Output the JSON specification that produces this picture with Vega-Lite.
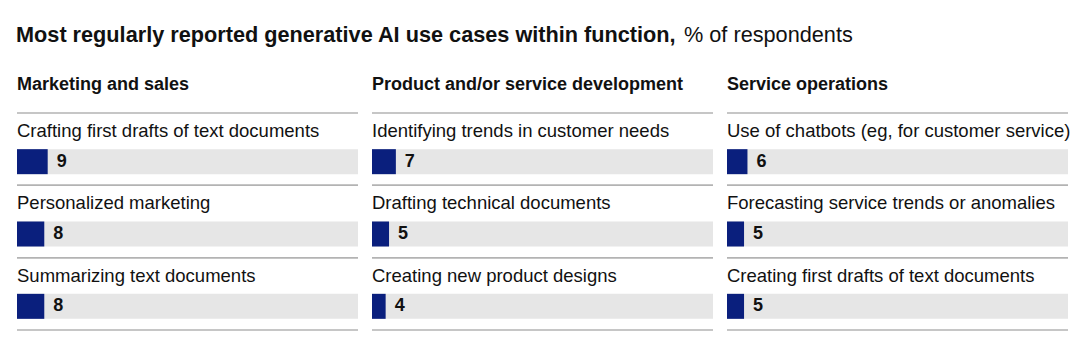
{
  "$schema": "https://vega.github.io/schema/vega-lite/v6.json",
  "background": "white",
  "padding": {"left": 16, "top": 24, "right": 0, "bottom": 0},
  "autosize": {"type": "pad"},
  "bounds": "flush",
  "config": {"view": {"stroke": null}, "font": "Liberation Sans"},
  "title": {"text": "% of respondents", "anchor": "start", "dx": 668, "dy": 25, "fontSize": 21.7, "fontWeight": "normal", "color": "#111111"},
  "data": {"values": [
    {"func": "Marketing and sales", "col": 1, "rank": 1, "item": "Crafting first drafts of text documents", "value": 9},
    {"func": "Marketing and sales", "col": 1, "rank": 2, "item": "Personalized marketing", "value": 8},
    {"func": "Marketing and sales", "col": 1, "rank": 3, "item": "Summarizing text documents", "value": 8},
    {"func": "Product and/or service development", "col": 2, "rank": 1, "item": "Identifying trends in customer needs", "value": 7},
    {"func": "Product and/or service development", "col": 2, "rank": 2, "item": "Drafting technical documents", "value": 5},
    {"func": "Product and/or service development", "col": 2, "rank": 3, "item": "Creating new product designs", "value": 4},
    {"func": "Service operations", "col": 3, "rank": 1, "item": "Use of chatbots (eg, for customer service)", "value": 6},
    {"func": "Service operations", "col": 3, "rank": 2, "item": "Forecasting service trends or anomalies", "value": 5},
    {"func": "Service operations", "col": 3, "rank": 3, "item": "Creating first drafts of text documents", "value": 5}
  ]},
  "spacing": 14,
  "facet": {
    "column": {
      "field": "func", "type": "nominal", "sort": {"field": "col", "op": "min"},
      "title": "Most regularly reported generative AI use cases within function,",
      "header": {
        "labelAnchor": "start", "labelFontWeight": "bold", "labelFontSize": 18, "labelColor": "#111111", "labelPadding": 19,
        "titleAnchor": "start", "titleFontWeight": "bold", "titleFontSize": 21.7, "titleColor": "#111111", "titlePadding": 19
      }
    }
  },
  "spec": {
    "width": 341,
    "height": 217,
    "encoding": {
      "y": {"field": "rank", "type": "ordinal", "axis": null, "scale": {"type": "band", "paddingInner": 0, "paddingOuter": 0}}
    },
    "layer": [
      {"mark": {"type": "bar", "color": "#e6e6e6", "height": 25, "yOffset": 12.5},
       "encoding": {"x": {"datum": 100, "type": "quantitative", "scale": {"domain": [0, 100]}, "axis": null}}},
      {"mark": {"type": "bar", "color": "#0a1f7d", "height": 25, "yOffset": 12.5},
       "encoding": {"x": {"field": "value", "type": "quantitative"}}},
      {"mark": {"type": "rule", "color": "#b3b3b3", "strokeWidth": 1.5},
       "encoding": {"y": {"field": "rank", "type": "ordinal", "bandPosition": 0}}},
      {"mark": {"type": "rule", "color": "#b3b3b3", "strokeWidth": 1.5},
       "encoding": {"y": {"field": "rank", "type": "ordinal", "bandPosition": 1}}},
      {"mark": {"type": "text", "align": "left", "baseline": "middle", "fontSize": 18.5, "dy": 18, "color": "#111111"},
       "encoding": {"x": {"datum": 0, "type": "quantitative"}, "y": {"field": "rank", "type": "ordinal", "bandPosition": 0}, "text": {"field": "item"}}},
      {"mark": {"type": "text", "align": "left", "baseline": "middle", "fontSize": 18, "fontWeight": "bold", "dx": 9, "yOffset": 12.5, "color": "#111111"},
       "encoding": {"x": {"field": "value", "type": "quantitative"}, "text": {"field": "value"}}}
    ]
  }
}
